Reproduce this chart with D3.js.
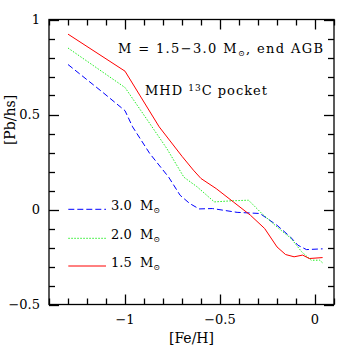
<!DOCTYPE html>
<html>
<head>
<meta charset="utf-8">
<script src="https://cdn.jsdelivr.net/npm/d3@7"></script>
<style>
  body { margin: 0; background: #fff; }
  text { font-family: "DejaVu Serif", serif; fill: #000; }
</style>
</head>
<body>
<div id="chart"></div>
<script>
// [Fe/H] vs [Pb/hs], MHD 13C pocket models
const masses = ["3.0", "2.0", "1.5"]
const colors = ["#0000ff", "#22ee22", "#ff0000"]
const dashes = ["6,3", "1.5,1.5", null]

const feh30 = [-1.3, -1.12, -1.0, -0.96, -0.87, -0.77, -0.71, -0.66, -0.61, -0.54, -0.41, -0.29, -0.20, -0.13, -0.09, -0.045, 0.04]
const pb30  = [0.763, 0.619, 0.52, 0.435, 0.295, 0.17, 0.075, 0.032, 0.003, 0.005, -0.015, -0.021, -0.083, -0.144, -0.188, -0.211, -0.207]

const feh20 = [-1.3, -1.0, -0.87, -0.78, -0.69, -0.62, -0.53, -0.45, -0.35, -0.28, -0.20, -0.125, -0.07, -0.02, 0.025, 0.04]
const pb20  = [0.85, 0.642, 0.453, 0.321, 0.17, 0.119, 0.04, 0.045, 0.049, -0.021, -0.092, -0.153, -0.223, -0.267, -0.267, -0.281]

const feh15 = [-1.3, -1.0, -0.82, -0.70, -0.64, -0.60, -0.52, -0.43, -0.34, -0.265, -0.20, -0.155, -0.11, -0.065, -0.03, 0.04]
const pb15  = [0.923, 0.728, 0.435, 0.28, 0.207, 0.163, 0.11, 0.04, -0.03, -0.10, -0.197, -0.237, -0.249, -0.24, -0.258, -0.253]

const xMajor = [-1, -0.5, 0]
const yMajor = [-0.5, 0, 0.5, 1]

const series = [
  {feh: feh30, pb: pb30},
  {feh: feh20, pb: pb20},
  {feh: feh15, pb: pb15}
]

const W = 353, H = 353
const mLeft = 49, mRight = 334, mTop = 19.5, mBottom = 304.5

const x = d3.scaleLinear().domain([-1.4, 0.1]).range([mLeft, mRight])
const y = d3.scaleLinear().domain([-0.5, 1]).range([mBottom, mTop])

const svg = d3.select('#chart').append('svg')
  .attr('width', W).attr('height', H)

const xMinor = d3.range(-1.4, 0.1001, 0.1).map(v => +v.toFixed(2))
const yMinor = d3.range(-0.5, 1.0001, 0.1).map(v => +v.toFixed(2))
const isMajor = v => Math.abs(v * 2 - Math.round(v * 2)) < 1e-6

const fmt = d => d === 0 ? "0" : d3.format("")(d)

svg.selectAll('text.xl').data(xMajor).enter().append('text')
  .attr('class', 'xl')
  .attr('x', d => x(d)).attr('y', 323.5)
  .attr('text-anchor', 'middle')
  .style('font-size', '13px')
  .text(fmt)

svg.selectAll('text.yl').data(yMajor).enter().append('text')
  .attr('class', 'yl')
  .attr('x', 40).attr('y', d => y(d) + 4.7)
  .attr('text-anchor', 'end')
  .style('font-size', '13px')
  .text(fmt)

const line = d3.line().x(d => x(d[0])).y(d => y(d[1]))

series.forEach((s, i) => {
  svg.append('path')
    .datum(s.feh.map((v, k) => [v, s.pb[k]]))
    .attr('d', line)
    .attr('fill', 'none')
    .attr('stroke', colors[i])
    .attr('stroke-width', 1)
    .attr('stroke-dasharray', dashes[i])
})

// legend
const legY = [209.3, 238.3, 266]
masses.forEach((m, i) => {
  svg.append('line')
    .attr('x1', 68.3).attr('x2', 106)
    .attr('y1', legY[i]).attr('y2', legY[i])
    .attr('stroke', colors[i]).attr('stroke-width', 1)
    .attr('stroke-dasharray', dashes[i])
  const t = svg.append('text')
    .attr('x', 111).attr('y', legY[i] + 1)
    .attr('textLength', 49)
    .style('font-size', '13px')
    .style('white-space', 'pre')
  t.append('tspan').text(m + "  M")
  t.append('tspan').attr('dy', 3).style('font-size', '8px').text('\u2299')
})

// annotations
const title = svg.append('text')
  .attr('x', 118).attr('y', 53)
  .attr('textLength', 205)
  .style('font-size', '13px')
  .style('white-space', 'pre')
title.append('tspan').text('M = 1.5\u22123.0 M')
title.append('tspan').attr('dy', 3).style('font-size', '8px').text('\u2299')
title.append('tspan').attr('dy', -3).text(', end AGB')

const sub = svg.append('text')
  .attr('x', 145).attr('y', 95)
  .attr('textLength', 122)
  .style('font-size', '13px')
  .style('white-space', 'pre')
sub.append('tspan').text('MHD ')
sub.append('tspan').attr('dy', -4).style('font-size', '9px').text('13')
sub.append('tspan').attr('dy', 4).text('C pocket')

// axis titles
svg.append('text')
  .attr('x', 191.5).attr('y', 343)
  .attr('text-anchor', 'middle')
  .style('font-size', '14px')
  .text('[Fe/H]')

svg.append('text')
  .attr('transform', 'translate(15,120) rotate(-90)')
  .attr('text-anchor', 'middle')
  .style('font-size', '14px')
  .text('[Pb/hs]')

// frame
svg.append('rect')
  .attr('x', mLeft).attr('y', mTop)
  .attr('width', mRight - mLeft).attr('height', mBottom - mTop)
  .attr('fill', 'none').attr('stroke', '#000').attr('stroke-width', 1.3)

// inward ticks on all four sides, long ones at every 0.5
const tg = svg.append('g').attr('stroke', '#000').attr('stroke-width', 1.3)
xMinor.forEach(v => {
  const len = isMajor(v) ? 10 : 6
  const xx = Math.round(x(v)) + 0.5
  tg.append('line').attr('x1', xx).attr('x2', xx).attr('y1', mBottom).attr('y2', mBottom - len)
  tg.append('line').attr('x1', xx).attr('x2', xx).attr('y1', mTop).attr('y2', mTop + len)
})
yMinor.forEach(v => {
  const len = isMajor(v) ? 10 : 6
  const yy = Math.round(y(v)) + 0.5
  tg.append('line').attr('x1', mLeft).attr('x2', mLeft + len).attr('y1', yy).attr('y2', yy)
  tg.append('line').attr('x1', mRight).attr('x2', mRight - len).attr('y1', yy).attr('y2', yy)
})
</script>
</body>
</html>
